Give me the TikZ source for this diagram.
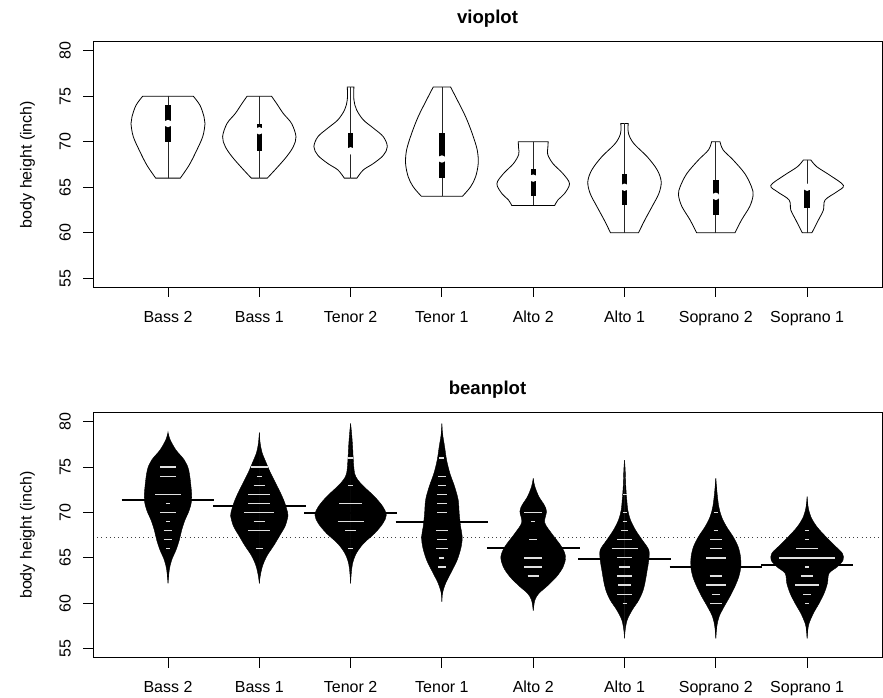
\documentclass[tikz,border=0pt]{standalone}
\usepackage{fontspec}
\setmainfont{Liberation Sans}
\tikzset{
  frame/.style={line width=0.9pt, black},
  vioout/.style={line width=0.8pt, black},
  whisk/.style={line width=0.8pt, black!85},
  qbox/.style={fill=black},
  meddot/.style={circle, fill=white, minimum size=7.4pt, inner sep=0pt},
  beanfill/.style={fill=black, draw=black, line width=0.4pt},
  beanline/.style={black!12, line width=1.3pt},
  meanline/.style={black, line width=2pt},
  grandmean/.style={black!75, line width=0.8pt, dash pattern=on 0.8pt off 3.4pt},
  lbl/.style={inner sep=0pt, font=\fontsize{16}{19}\selectfont},
  ttl/.style={inner sep=0pt, font=\fontsize{18.6}{22}\selectfont\bfseries},
}
% #1 name, #2 cx, #3 top v, #4 bottom v, #5 right half, #6 q1, #7 q3, #8 median
\newcommand{\violin}[8]{%
  \foreach \s in {1,-1}{\draw[vioout, shift={(#2,0)}, xscale=\s] (0,#3) -- plot[smooth, tension=0.55] coordinates {#5} -- (0,#4);}
  \draw[whisk] (#2,#4) -- (#2,#3);
  \fill[qbox] (#2-2.7,#6) rectangle (#2+2.7,#7);
  \node[meddot] (#1) at (#2,#8) {};
}
% #1 cx, #2 right half, #3 mean, #4 beanlines v/hw
\newcommand{\bean}[4]{%
  \foreach \s in {1,-1}{\filldraw[beanfill, shift={(#1,0)}, xscale=\s] plot[smooth, tension=0.55] coordinates {#2} -- cycle;}
  \foreach \v/\w in {#4}{\draw[beanline] (#1-\w,\v) -- (#1+\w,\v);}
  \draw[meanline] (#1-46.3,#3) -- (#1+46.3,#3);
}
\begin{document}
\begin{tikzpicture}[x=1pt,y=1pt]
\useasboundingbox (0,0) rectangle (883,697);

% ================= top panel: vioplot =================
\begin{scope}[y=9.104pt, yshift=-82pt]
  \violin{m1}{168}{75}{66}{(25.3,75) (32,74) (36,72.75) (37,72) (34.7,70.55) (28,68.9) (21,67.4) (12.3,66)}{70}{74}{72}
  \violin{m2}{259.3}{75}{66}{(12.2,75) (17.3,74.2) (24,73.1) (32.3,72) (36.7,70.55) (34,69.46) (27.3,68.36) (17.3,67.1) (8,66)}{69}{72}{71.2}
  \violin{m3}{350.6}{76}{66}{(3.3,76) (3.3,74.6) (6,73.5) (12.7,72.4) (22.7,71.5) (32.7,70.55) (36.7,69.45) (32.7,68.5) (22.7,67.6) (12.7,66.9) (6.3,66)}{69}{71}{69}
  \violin{m4}{441.9}{76}{64}{(8.7,76) (15.3,74.6) (23.7,72.75) (30.3,70.9) (35.3,69.1) (36.3,67.6) (33.7,66.15) (28.7,65.05) (20.5,64)}{66}{71}{68.1}
  \violin{m5}{533.2}{70}{63}{(15,70) (14.6,69.3) (14.5,68.6) (19.7,67.6) (29.7,66.5) (36.3,65.4) (31.3,64.3) (24.7,63.6) (21.5,63)}{64}{67}{66}
  \violin{m6}{624.5}{72}{60}{(3.7,72) (4,70.9) (9.3,69.8) (22.7,68.35) (32.7,66.9) (36.7,65.6) (34.3,64.3) (27.7,62.9) (20.3,61.4) (14,60)}{63}{66.5}{65}
  \violin{m7}{715.8}{70}{60}{(4.2,70) (7.3,69.1) (17.3,68) (29,66.5) (35.7,65.05) (37.3,64.14) (34,62.9) (25.7,61.4) (19.2,60)}{62}{65.8}{64}
  \violin{m8}{807.1}{68}{60}{(3.7,68) (9.7,67.25) (23,66.3) (36.3,65.2) (29.7,64.5) (18,63.6) (16.3,62.5) (11.3,61.4) (4.8,60)}{62.75}{65}{65}

  \draw[frame] (93,54) rectangle (882,81);
  \foreach \v in {55,60,...,80}{
    \draw[frame] (93,\v) -- (83.3,\v);
    \node[lbl, rotate=90, anchor=base] (ta\v) at (70.7,\v) {\v};
  }
  \foreach \cx/\t [count=\i] in {168/Bass 2,259.3/Bass 1,350.6/Tenor 2,441.9/Tenor 1,533.2/Alto 2,624.5/Alto 1,715.8/Soprano 2,807.1/Soprano 1}{
    \draw[frame] (\cx,54) -- (\cx,52.9);
    \node[lbl, anchor=base] (xa\i) at (\cx,50.15) {\t};
  }
  \node[lbl, rotate=90, anchor=base] (ya) at (31.5,67.5) {body height (inch)};
  \node[ttl, anchor=base] (titlea) at (487.5,82.97) {vioplot};
\end{scope}

% ================= bottom panel: beanplot =================
\begin{scope}[y=9.08pt, yshift=-451.1pt]
  \draw[grandmean] (93,67.3) -- (882,67.3);
  \bean{168}{(0,78.8) (2.3,77.98) (8,76.88) (16.3,75.78) (20.7,74.68) (23,72.85) (23.7,71.38) (21.3,70.27) (17,69.17) (13.7,68.07) (11.3,66.97) (8,65.87) (3.7,64.77) (1.3,63.67) (0,62.2)}{71.38}{75/8,74/8,72/13,71/2,70/7.7,69/2,68/4.3,67/4.3,66/2}
  \bean{259.3}{(0,78.8) (0.8,77.7) (2.7,76.62) (6.7,75.52) (11,74.41) (16,73.31) (21,72.21) (25.3,71.11) (28.3,70.01) (28.7,69.64) (26,68.54) (20.3,67.44) (14.3,66.33) (7.7,65.23) (3.3,64.13) (1,63.03) (0,62.2)}{70.7}{75/8.3,74/2.3,73/5.7,72/11,71/11,70/15,69/5.7,68/11,66/3.7}
  \bean{350.6}{(0,79.8) (1,78.72) (2,77.25) (2.7,75.78) (4,74.31) (7.3,73.58) (13.3,72.85) (24,71.74) (32.3,70.64) (35.7,69.72) (32.3,68.8) (24,67.7) (13,66.6) (5.7,65.5) (2,64.4) (0.7,63.3) (0,62.2)}{69.9}{76/2.5,73/2.5,71/11.3,70/4,69/13,68/5.8,66/2.5}
  \bean{441.9}{(0,79.8) (0.6,78.72) (2.7,77.25) (4.7,75.78) (8,74.31) (12.7,72.85) (16.3,71.38) (17.3,69.91) (18.7,68.44) (20.3,67.34) (19.3,66.24) (15.3,64.77) (8.7,63.3) (3.7,62.2) (0.6,61.1) (0,60.18)}{68.9}{76/2.5,74/3.8,73/3.8,72/4.7,71/4.7,70/4.7,69/2.5,68/6,67/4.7,66/6,65/2.5,64/3.8}
  \bean{533.2}{(0,73.76) (1.7,72.85) (5.7,71.74) (11,70.83) (13.3,70.1) (11.5,68.9) (18.3,67.71) (28.3,66.24) (32.3,65.13) (30,64.03) (23.3,62.93) (13.3,61.83) (5.7,61.1) (1.7,60.36) (0,59.19)}{66.09}{70/9,69/2,67/3.8,66/11.3,65/9,64/9,63/5.7}
  \bean{624.5}{(0,75.78) (0.7,74.68) (1.3,72.85) (2.3,71.38) (3.3,70.28) (6,69.17) (11,68.07) (17.7,66.97) (24.3,65.87) (24.3,64.77) (22.7,63.67) (21,62.56) (18.7,61.46) (14.3,60.36) (7.7,59.26) (2.7,58.16) (0.7,57.06) (0,56.14)}{64.91}{72/2,70/2,69/2,68/3.7,67/7.3,66/13,65/7.3,64/5.3,63/7.3,62/6.3,61/7.3,60/2}
  \bean{715.8}{(0,73.76) (1.3,72.11) (3,70.64) (5.7,69.54) (10.7,68.44) (17.3,67.34) (22.3,66.24) (24.7,65.13) (25,64.03) (23,62.93) (19,61.83) (14,60.73) (8.3,59.63) (3.3,58.53) (1,57.43) (0,56.14)}{64.0}{70/2.3,68/2.3,67/5.8,66/5.8,65/9.7,64/7.5,63/6.3,62/9.7,61/4,60/5.8}
  \bean{807.1}{(0,71.74) (1,70.64) (3.7,69.54) (9.7,68.44) (18.7,67.34) (28.7,66.24) (35.3,65.5) (36,64.77) (30.3,64.03) (22,63.3) (20.3,62.2) (17,61.1) (12,60) (6.3,58.9) (2,57.8) (0.7,57.06) (0,56.14)}{64.27}{68/2.2,67/2.2,66/11.2,65/27.7,64/2.2,63/6.2,62/11.7,61/3.8,60/2.2}

  \draw[frame] (93,54) rectangle (882,81);
  \foreach \v in {55,60,...,80}{
    \draw[frame] (93,\v) -- (83.3,\v);
    \node[lbl, rotate=90, anchor=base] (tb\v) at (70.7,\v) {\v};
  }
  \foreach \cx/\t [count=\i] in {168/Bass 2,259.3/Bass 1,350.6/Tenor 2,441.9/Tenor 1,533.2/Alto 2,624.5/Alto 1,715.8/Soprano 2,807.1/Soprano 1}{
    \draw[frame] (\cx,54) -- (\cx,52.9);
    \node[lbl, anchor=base] (xb\i) at (\cx,50.15) {\t};
  }
  \node[lbl, rotate=90, anchor=base] (yb) at (31.5,67.5) {body height (inch)};
  \node[ttl, anchor=base] (titleb) at (487.5,82.97) {beanplot};
\end{scope}
\end{tikzpicture}
\end{document}
